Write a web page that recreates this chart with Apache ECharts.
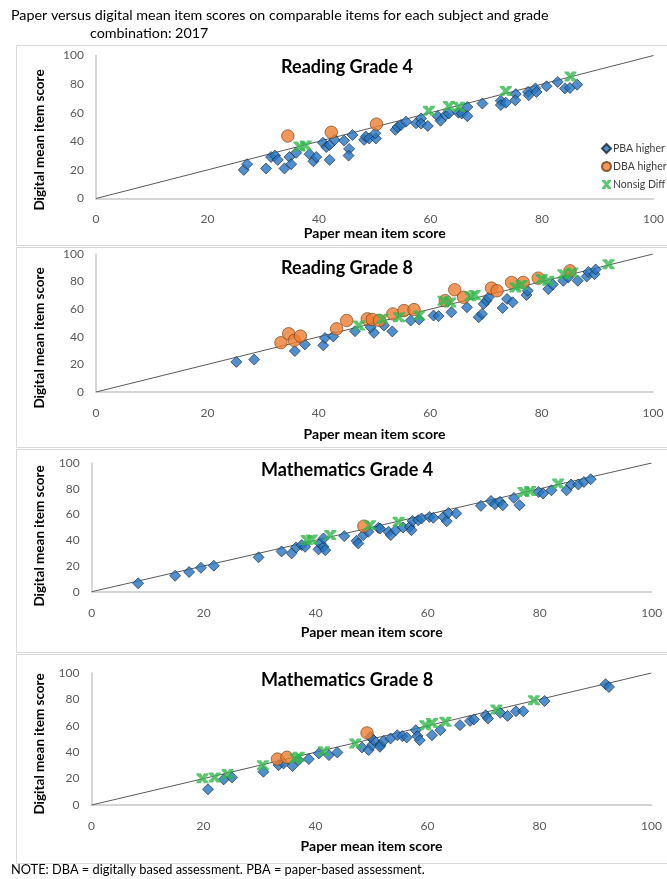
<!DOCTYPE html>
<html><head><meta charset="utf-8">
<script src="https://cdn.jsdelivr.net/npm/echarts@6/dist/echarts.min.js"></script>
<style>html,body{margin:0;padding:0;background:#fff}#c{width:667px;height:879px}</style>
</head><body><div id="c"></div>
<script>
const FONT = 'Lato, "Noto Sans", sans-serif';
const axisTicks = [0, 20, 40, 60, 80, 100];
const panelTitles = ['Reading Grade 4', 'Reading Grade 8', 'Mathematics Grade 4', 'Mathematics Grade 8'];
const seriesNames = ['PBA higher', 'DBA higher', 'Nonsig Diff'];
const diagonal = [[0, 0], [100, 100]];

// Reading Grade 4
const read4PBA = [[26.5,20],[27.1,24],[30.5,21],[31.4,29],[32.1,30],[32.6,27],[33.8,21],[34.7,29],[35,24],[35.9,32],[38.3,31],[39,26],[39.5,29],[40.7,39],[41.3,36],[41.9,37.5],[41.9,27],[42.8,41],[44.5,40.5],[45.4,34.7],[45.3,30],[46,44.4],[48.1,41],[48.4,43.3],[49,42],[50.2,42],[50.1,45.6],[53.7,48],[54.1,50],[54.7,51.4],[55.6,53.7],[57.4,52.6],[58.3,56],[58.3,52.4],[59.5,50.7],[61.3,57.6],[61.8,54.4],[62.7,58.3],[63.3,59.5],[65,60],[65.6,59.5],[66.6,64],[66.6,57.6],[69.3,66.4],[72.6,68.3],[72.6,65.4],[73.5,67],[75.3,73],[75.2,68.7],[77.5,74.5],[77.6,72.2],[78.8,77],[79,74.5],[80.8,78.5],[82.8,81.5],[84.1,77],[85,77.3],[86.3,79.6]];
const read4DBA = [[34.4,43.7],[42.2,46.3],[50.3,52]];
const read4NS = [[36.5,36.3],[37.6,37],[59.7,61.3],[63.3,64.6],[65.1,64.1],[73.5,75.2],[85.1,85.4]];

// Reading Grade 8
const read8PBA = [[25.2,21.8],[28.4,23.5],[35.7,29.7],[37.5,34.5],[40.8,33.8],[41.1,39.1],[42.6,40.3],[46.5,44.1],[49.9,42.9],[49.3,47],[51.7,48.2],[53.2,43.9],[56.5,51.8],[58,52.5],[60.6,55.4],[61.5,55],[63.8,57.8],[66.6,61.4],[68.7,54.2],[69.3,56.6],[69.6,63.8],[70.1,66.2],[70.5,68.6],[73,60.9],[73.8,67.4],[74.8,65],[77.3,70.3],[77.5,73.4],[81.2,74.6],[82,77.9],[83.9,80.6],[84.8,83],[86.5,80.6],[88.1,83.7],[88.4,87],[89.5,85.4],[89.7,88.8]];
const read8DBA = [[33.2,35.7],[34.6,42.2],[35.6,37.4],[36.7,40.5],[43.2,45.8],[45,51.8],[48.7,53],[49.6,52.5],[50.9,51.8],[53.3,56.6],[55.3,59],[57.1,59.7],[62.7,66.2],[64.4,74.1],[66,68.6],[71,75.3],[72,73.4],[74.6,79.4],[76.7,79.4],[79.4,82.5],[85.1,87.8]];
const read8NS = [[47.2,48.2],[51.4,53],[54.4,54.2],[58,55.4],[62.4,66.2],[63.6,64.9],[67.2,69.3],[68,70.3],[75.3,75.8],[76.4,77.6],[80,81.8],[81.2,80.6],[83.9,85.4],[85.5,86.6],[92,92.6]];

// Mathematics Grade 4
const math4PBA = [[8.3,6.5],[14.9,12.4],[17.4,15.3],[19.5,18.6],[21.8,20.2],[29.8,26.7],[33.9,31.3],[35.7,29.8],[36.5,34.4],[37.5,36.2],[38.1,34.9],[40.5,32.9],[40.8,37.5],[41.4,34.9],[41.7,32.3],[41.4,41.4],[45.1,43.2],[47.3,39.5],[47.6,37.5],[48.5,44],[49.4,46.5],[51.2,49.6],[51.5,49.1],[53,46.5],[53.4,44],[54.3,47.8],[55.6,49.9],[56.8,50.4],[57.1,47.8],[57.3,55],[58.3,55.6],[58.9,56.9],[60.3,58.1],[61,57.4],[62.8,58.1],[63.4,54.8],[63.7,61.2],[65.1,60.8],[69.5,66.7],[71.3,70.5],[72,68],[72.9,69.8],[73.4,67.2],[75.4,72.9],[76.4,67.2],[79.8,77.5],[80.6,76.3],[82.1,78.8],[84.8,78.8],[85.6,83.3],[86.9,83.3],[87.9,85.3],[89.1,87.4]];
const math4DBA = [[48.6,50.9]];
const math4NS = [[38.4,40.1],[39.3,40.6],[42.6,44],[49.7,51.7],[54.8,54.3],[77.1,77.5],[78.3,78.3],[83.3,84]];

// Mathematics Grade 8
const math8PBA = [[20.8,11.9],[23.6,19.4],[25.1,20.9],[30.7,25.2],[33.4,30.2],[34.3,31.5],[35.9,29.5],[37,34],[38.8,34.8],[40.6,39.1],[42.4,37.8],[43.9,39.8],[48.3,43.6],[49.5,41.6],[50.1,45.4],[50.4,49.1],[51.6,45.4],[49.8,51.6],[51.5,44.1],[52.2,48.6],[53.4,50.4],[54.6,52.9],[55.5,52.2],[56.3,51.2],[57.9,56.7],[58.2,52.2],[58.6,49.1],[60.8,52.9],[62.3,56.7],[65.8,60.5],[67.6,63.7],[68.3,64.8],[70.4,68],[70.8,65.5],[73,69.8],[74.3,67.5],[75.8,71],[77.1,71],[80.9,78.8],[91.8,91.5],[92.4,89.4]];
const math8DBA = [[33.2,34.8],[34.9,36.1],[49.2,54.6]];
const math8NS = [[19.8,20.2],[22,20.9],[24.3,23.4],[30.6,30.2],[36.4,35.3],[37,36.5],[41.5,40.8],[47.1,46.6],[59.6,60.5],[60.8,62.2],[63.2,63],[72.3,72.3],[79,79.4]];

const panelData = [
  [read4PBA, read4DBA, read4NS],
  [read8PBA, read8DBA, read8NS],
  [math4PBA, math4DBA, math4NS],
  [math8PBA, math8DBA, math8NS]
];

// layout (pixels)
const grids = [
  {left: 96, top: 55.5, width: 558, height: 143},
  {left: 96, top: 254, width: 557, height: 138},
  {left: 91.7, top: 463, width: 560, height: 128.7},
  {left: 91.5, top: 673, width: 560, height: 132}
];
const boxes = [[14, 43, 200], [14, 245, 200], [14, 447, 203], [14, 652, 209]];
const xNameGaps = [28, 35, 34, 34];
const yNameY = [140, 338, 536, 744];
const titleY = [67, 268, 470, 680];

const XSHAPE = 'path://M0,0 L3.6,0 L5,2.6 L6.4,0 L10,0 L10,1.6 L7,5 L10,8.4 L10,10 L6.4,10 L5,7.4 L3.6,10 L0,10 L0,8.4 L3,5 L0,1.6 Z';
const styles = [
  {symbol: 'diamond', symbolSize: 11, itemStyle: {color: '#2474c2', borderColor: '#18222e', borderWidth: 0.8}},
  {symbol: 'circle', symbolSize: 12.5, itemStyle: {color: '#ed7d31', borderColor: '#6b3d16', borderWidth: 0.8}},
  {symbol: XSHAPE, symbolSize: [12, 10], itemStyle: {color: '#33b84d'}}
];

const xAxes = [], yAxes = [], series = [], graphics = [];
grids.forEach((g, i) => {
  xAxes.push({
    type: 'value', gridIndex: i, min: axisTicks[0], max: axisTicks[axisTicks.length - 1], interval: axisTicks[1] - axisTicks[0],
    axisLine: {show: true, lineStyle: {color: '#c8c8c8', width: 1.5}}, axisTick: {show: false}, splitLine: {show: false},
    axisLabel: {color: '#595959', fontSize: 12, margin: 15, fontFamily: FONT},
    name: 'Paper mean item score', nameLocation: 'middle', nameGap: xNameGaps[i],
    nameTextStyle: {color: '#000', fontWeight: 'bold', fontSize: 14, fontFamily: FONT}
  });
  yAxes.push({
    type: 'value', gridIndex: i, min: axisTicks[0], max: axisTicks[axisTicks.length - 1], interval: axisTicks[1] - axisTicks[0],
    axisLine: {show: true, lineStyle: {color: '#c8c8c8', width: 1.5}}, axisTick: {show: false}, splitLine: {show: false},
    axisLabel: {color: '#595959', fontSize: 12, margin: 12, fontFamily: FONT}
  });
  series.push({type: 'line', xAxisIndex: i, yAxisIndex: i, data: diagonal, symbol: 'none', silent: true,
    lineStyle: {color: '#5a5a5a', width: 1}, z: 1});
  panelData[i].forEach((d, k) => {
    series.push(Object.assign({type: 'scatter', name: seriesNames[k], xAxisIndex: i, yAxisIndex: i, data: d, z: 2 + k}, styles[k]));
  });
  graphics.push({type: 'rect', left: boxes[i][0], top: boxes[i][1], shape: {x: 0, y: 0, width: 680, height: boxes[i][2]},
    style: {fill: 'none', stroke: '#d9d9d9', lineWidth: 1}, z: -1});
  graphics.push({type: 'text', x: 347, y: titleY[i], style: {text: panelTitles[i], align: 'center', verticalAlign: 'middle',
    font: 'bold 18px ' + FONT, fill: '#000'}});
  graphics.push({type: 'text', x: 40, y: yNameY[i], rotation: Math.PI / 2, style: {text: 'Digital mean item score', align: 'center',
    verticalAlign: 'middle', font: 'bold 13.5px ' + FONT, fill: '#000'}});
});

graphics.push({type: 'text', x: 11, y: 15, style: {text: 'Paper versus digital mean item scores on comparable items for each subject and grade',
  verticalAlign: 'middle', font: '14.3px ' + FONT, fill: '#000'}});
graphics.push({type: 'text', x: 90, y: 33, style: {text: 'combination: 2017', verticalAlign: 'middle', font: '14.3px ' + FONT, fill: '#000'}});
graphics.push({type: 'text', x: 11, y: 870, style: {text: 'NOTE: DBA = digitally based assessment. PBA = paper-based assessment.',
  verticalAlign: 'middle', font: '12.8px ' + FONT, fill: '#000'}});

const chart = echarts.init(document.getElementById('c'), null, {renderer: 'canvas'});
chart.setOption({
  animation: false,
  backgroundColor: '#fff',
  grid: grids,
  xAxis: xAxes,
  yAxis: yAxes,
  legend: {
    orient: 'vertical', left: 596, top: 138, itemWidth: 9, itemHeight: 9, itemGap: 7, selectedMode: false,
    textStyle: {fontSize: 10.5, color: '#404040', fontFamily: FONT, padding: [0, 0, 0, -3]},
    data: [{name: 'PBA higher', icon: 'diamond'}, {name: 'DBA higher', icon: 'circle'}, {name: 'Nonsig Diff', icon: XSHAPE}]
  },
  series: series,
  graphic: graphics
});
</script>
</body></html>
